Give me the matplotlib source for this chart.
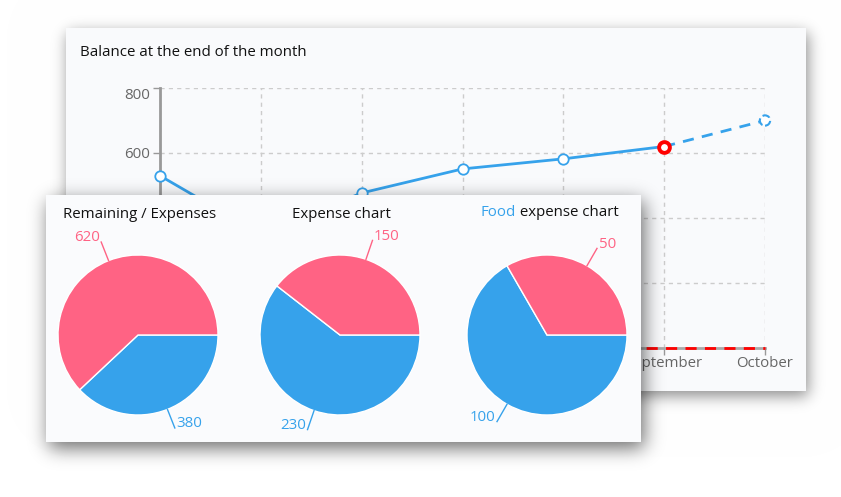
import math
import numpy as np
import matplotlib
matplotlib.use("Agg")
import matplotlib.pyplot as plt

# ---------------- data ----------------
months = ["April", "May", "June", "July", "August", "September", "October"]
balance = [530, 350, 477, 551, 582, 620, 700]   # October is a forecast (dashed)
y_ticks = [0, 200, 400, 600, 800]

pie_titles = ["Remaining / Expenses", "Expense chart", "Food expense chart"]
pie_blue = [380, 230, 100]
pie_pink = [620, 150, 50]

BLUE = "#36A2EB"
PINK = "#FF6384"
FONT = ["Open Sans", "DejaVu Sans"]
plt.rcParams["font.family"] = FONT
FS = 10.8

W, H = 841, 497
fig = plt.figure(figsize=(W / 100, H / 100), dpi=100)

# ---------------- background with card shadows ----------------
erf = np.vectorize(math.erf)


def box1d(n, a, b, s):
    x = np.arange(n) + 0.5
    r2 = s * math.sqrt(2)
    return 0.5 * (erf((x - a) / r2) - erf((x - b) / r2))


def shadow(rect, off, s):
    x0, y0, x1, y1 = rect
    mx = box1d(W, x0 + off[0], x1 + off[0], s)
    my = box1d(H, y0 + off[1], y1 + off[1], s)
    return np.outer(my, mx)


card1 = (66, 28, 806, 391)
card2 = (46, 195, 641, 442)
card_col = np.array([249, 250, 252]) / 255.0

img = np.ones((H, W, 3))
m1 = shadow(card1, (2, 5), 7.5)
img *= (1 - 0.45 * m1)[:, :, None]
img[card1[1]:card1[3], card1[0]:card1[2], :] = card_col

ax_bg = fig.add_axes([0, 0, 1, 1])
ax_bg.imshow(img, extent=[0, W, H, 0], aspect="auto", interpolation="nearest")
ax_bg.set_xlim(0, W)
ax_bg.set_ylim(H, 0)
ax_bg.axis("off")
ax_bg.text(80, 53, "Balance at the end of the month", fontsize=FS,
           color="#111111", ha="left", va="center")

# ---------------- line chart ----------------
L, R, T, B = 160, 765, 88, 348
ax = fig.add_axes([L / W, 1 - B / H, (R - L) / W, (B - T) / H])
ax.set_facecolor("none")
x = np.arange(len(months))
ax.set_xlim(0, len(months) - 1)
ax.set_ylim(y_ticks[0], y_ticks[-1])
ax.set_xticks(x)
ax.set_xticklabels(months)
ax.set_yticks(y_ticks[1:])
ax.grid(True, color="#cccccc", linestyle=(0, (3, 3)), linewidth=1)
for s in ["top", "right"]:
    ax.spines[s].set_visible(False)
ax.spines["left"].set_color("#999999")
ax.spines["left"].set_linewidth(2)
ax.spines["bottom"].set_color("#aaaaaa")
ax.spines["bottom"].set_linewidth(2)
ax.tick_params(axis="both", colors="#999999", length=5, width=1,
               labelcolor="#666666", labelsize=FS)
ax.tick_params(axis="x", pad=1)
ax.tick_params(axis="y", pad=2)
ylabels = ax.get_yticklabels()
ylabels[-1].set_va("top")
# labels that sit underneath the pie card are not visible in the picture
for lab in ylabels[:2]:
    lab.set_visible(False)
for lab in ax.get_xticklabels()[:5]:
    lab.set_visible(False)
ax.axhline(0, color="#ff0000", linestyle=(0, (4, 3)), linewidth=2, clip_on=False, zorder=3)

ax.plot(x[:6], balance[:6], color=BLUE, lw=2, marker="o", ms=7.5,
        mfc="white", mec=BLUE, mew=1.3, clip_on=False, zorder=4)
ax.plot(x[5:], balance[5:], color=BLUE, lw=2, linestyle=(0, (4, 3)),
        clip_on=False, zorder=4)
ax.scatter([x[6]], [balance[6]], s=55, facecolor="white", edgecolor=BLUE,
           linewidths=1.5, linestyle="--", clip_on=False, zorder=5)
ax.scatter([x[5]], [balance[5]], s=60, facecolor="white", edgecolor="#ff0000",
           linewidths=2.8, clip_on=False, zorder=5)

# ---------------- overlay card with pies ----------------
ov = np.zeros((H, W, 4))
m2 = shadow(card2, (3, 6), 9.5)
ov[:, :, 3] = 0.58 * m2
ov[card2[1]:card2[3], card2[0]:card2[2], :3] = np.array([250, 251, 253]) / 255.0
ov[card2[1]:card2[3], card2[0]:card2[2], 3] = 1.0
ax_ov = fig.add_axes([0, 0, 1, 1])
ax_ov.imshow(ov, extent=[0, W, H, 0], aspect="auto", interpolation="nearest")
ax_ov.set_xlim(0, W)
ax_ov.set_ylim(H, 0)
ax_ov.axis("off")

centers = [(138, 335), (340, 335), (547, 335)]
S = 256
for i, (cx, cy) in enumerate(centers):
    pa = fig.add_axes([(cx - S / 2) / W, 1 - (cy + S / 2) / H, S / W, S / H])
    pa.set_xlim(-1.6, 1.6)
    pa.set_ylim(-1.6, 1.6)
    pa.axis("off")
    vals = [pie_blue[i], pie_pink[i]]
    cols = [BLUE, PINK]
    wedges, _ = pa.pie(vals, colors=cols, startangle=0, counterclock=False,
                       wedgeprops=dict(edgecolor="white", linewidth=1))
    pa.set_xlim(-1.6, 1.6)
    pa.set_ylim(-1.6, 1.6)
    for w, v, c in zip(wedges, vals, cols):
        th = math.radians((w.theta1 + w.theta2) / 2)
        c0, s0 = math.cos(th), math.sin(th)
        pa.plot([c0 * 1.0, c0 * 1.25], [s0 * 1.0, s0 * 1.25], color=c, lw=1)
        pa.text(c0 * 1.25 + (0.02 if c0 > 0 else -0.02), s0 * 1.25 + 0.01, str(v),
                color=c, fontsize=FS, ha="left" if c0 > 0 else "right",
                va="baseline")
    if i < 2:
        pa.text(0.02, 1.51, pie_titles[i], fontsize=FS, color="#111111",
                ha="center", va="center")
    else:
        word, rest = pie_titles[i].split(" ", 1)
        t1 = pa.text(-0.83, 1.53, word, fontsize=FS, color=BLUE,
                     ha="left", va="center")
        pa.annotate(" " + rest, xy=(1, 0), xycoords=t1, fontsize=FS,
                    color="#111111", ha="left", va="bottom")

fig.savefig("out.png", dpi=100)
